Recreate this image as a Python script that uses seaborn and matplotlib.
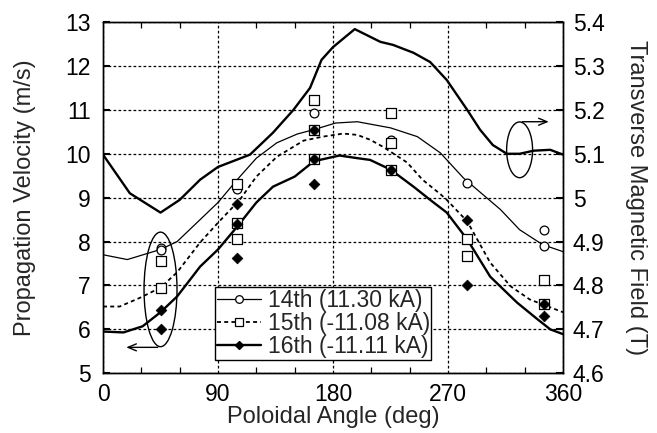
import numpy as np
import matplotlib
matplotlib.use("Agg")
import matplotlib.pyplot as plt
from matplotlib.patches import Ellipse
from matplotlib.lines import Line2D
import seaborn as sns

# Curves (poloidal angle in deg)
b_angle = [0, 21, 45, 60, 76, 90, 115, 133, 149, 162, 171, 180, 197, 217, 227, 243, 256, 269, 285, 295, 305, 316, 326, 337, 350, 360]
b_field = [5.098, 5.01, 4.966, 4.995, 5.041, 5.07, 5.098, 5.148, 5.2, 5.25, 5.314, 5.343, 5.384, 5.355, 5.348, 5.33, 5.309, 5.268, 5.2, 5.155, 5.12, 5.1, 5.1, 5.107, 5.109, 5.098]

c14_angle = [0, 19, 45, 58, 76, 90, 105, 120, 136, 152, 165, 182, 199, 225, 246, 264, 282, 311, 326, 344, 360]
c14_vel = [7.70, 7.59, 7.82, 8.0, 8.5, 8.89, 9.41, 9.9, 10.25, 10.45, 10.55, 10.7, 10.73, 10.59, 10.39, 10.02, 9.45, 8.73, 8.27, 7.93, 7.77]

c15_angle = [0, 13, 29, 45, 58, 76, 90, 107, 120, 136, 157, 172, 188, 199, 209, 219, 238, 250, 264, 269, 285, 303, 319, 334, 360]
c15_vel = [6.52, 6.52, 6.72, 6.95, 7.3, 7.98, 8.43, 8.95, 9.48, 9.93, 10.3, 10.39, 10.46, 10.43, 10.32, 10.16, 9.8, 9.41, 9.08, 8.95, 8.46, 7.52, 6.98, 6.68, 6.39]

c16_angle = [0, 16, 31, 45, 58, 76, 90, 105, 120, 133, 150, 165, 185, 199, 209, 225, 243, 256, 269, 285, 303, 324, 340, 350, 360]
c16_vel = [5.95, 5.93, 6.07, 6.39, 6.75, 7.43, 7.82, 8.34, 8.89, 9.25, 9.48, 9.83, 9.96, 9.9, 9.86, 9.64, 9.25, 8.95, 8.66, 8.05, 7.2, 6.61, 6.23, 6.0, 5.89]

# Measured points
p14_angle = [45, 45, 105, 165, 225, 285, 345, 345]
p14_vel = [7.86, 7.80, 9.20, 10.92, 10.32, 9.33, 8.26, 7.89]
p15_angle = [45, 45, 105, 105, 105, 165, 165, 165, 225, 225, 225, 285, 285, 345, 345]
p15_vel = [7.55, 6.95, 9.32, 8.42, 8.05, 11.23, 10.55, 9.88, 10.92, 10.24, 9.62, 8.05, 7.67, 7.12, 6.58]
p16_angle = [45, 45, 105, 105, 105, 165, 165, 165, 225, 285, 285, 345, 345]
p16_vel = [6.43, 6.00, 8.86, 8.39, 7.63, 10.55, 9.88, 9.31, 9.62, 8.48, 7.00, 6.58, 6.30]

labels = ["14th (11.30 kA)", "15th (-11.08 kA)", "16th (-11.11 kA)"]

sns.set_style("ticks")
plt.rcParams["font.family"] = ["Liberation Sans", "DejaVu Sans"]

fig, ax = plt.subplots(figsize=(6.57, 4.33), dpi=100)
fig.subplots_adjust(left=0.1568, right=0.857, top=0.949, bottom=0.138)
ax2 = ax.twinx()

dots = (0, (2.2, 1.8))

sns.lineplot(x=c14_angle, y=c14_vel, ax=ax, color="black", lw=0.9, sort=False)
sns.lineplot(x=c15_angle, y=c15_vel, ax=ax, color="black", lw=1.3, linestyle=dots, sort=False)
sns.lineplot(x=c16_angle, y=c16_vel, ax=ax, color="black", lw=1.7, sort=False)
sns.lineplot(x=b_angle, y=b_field, ax=ax2, color="black", lw=1.7, sort=False)

sns.scatterplot(x=p14_angle, y=p14_vel, ax=ax, marker="o", color="white", edgecolor="black", linewidth=0.9, s=40, zorder=5)
sns.scatterplot(x=p15_angle, y=p15_vel, ax=ax, marker="s", color="white", edgecolor="black", linewidth=0.9, s=42, zorder=5)
sns.scatterplot(x=p16_angle, y=p16_vel, ax=ax, marker="D", color="black", edgecolor="black", linewidth=0.5, s=30, zorder=6)

ax.set_xlim(0, 360)
ax.set_ylim(5, 13)
ax2.set_ylim(4.6, 5.4)
ax.set_xticks([0, 90, 180, 270, 360])
ax.set_xticks(np.arange(0, 361, 30), minor=True)
ax.set_yticks(np.arange(5, 14, 1))
ax2.set_yticks(np.arange(4.6, 5.45, 0.1))
ax2.set_yticklabels(["4.6", "4.7", "4.8", "4.9", "5", "5.1", "5.2", "5.3", "5.4"])

ax.grid(True, which="major", color="black", lw=0.9, linestyle=dots)
ax.tick_params(axis="both", which="both", direction="in", top=True, right=False, colors="black", labelsize=16.5)
ax.tick_params(axis="x", which="major", length=0, pad=7)
ax.tick_params(axis="x", which="minor", length=4, width=0.9)
ax.tick_params(axis="y", which="major", length=5, width=1.5, pad=9)
ax2.tick_params(axis="y", direction="in", length=5, width=1.5, pad=7, labelsize=16.5, colors="black")

for a in (ax, ax2):
    for sp in a.spines.values():
        sp.set_color("black")
        sp.set_linewidth(1.0)

ax.set_xlabel("Poloidal Angle (deg)", fontsize=17, labelpad=0)
ax.set_ylabel("Propagation Velocity (m/s)", fontsize=17, labelpad=21)
ax2.set_ylabel("Transverse Magnetic Field (T)", fontsize=17, rotation=-90, va="bottom", labelpad=15)

# annotations: ellipses and arrows pointing to the axes
ax.add_patch(Ellipse((45, 6.91), 25.8, 2.61, fill=False, edgecolor="black", lw=1.0, zorder=7))
ax.annotate("", xy=(16, 5.59), xytext=(45, 5.59),
            arrowprops=dict(arrowstyle="->,head_length=0.6,head_width=0.25", color="black", lw=1.0))
ax.add_patch(Ellipse((326, 10.09), 20.3, 1.27, fill=False, edgecolor="black", lw=1.0, zorder=7))
ax.annotate("", xy=(351, 10.73), xytext=(326, 10.73),
            arrowprops=dict(arrowstyle="->,head_length=0.6,head_width=0.25", color="black", lw=1.0))

handles = [
    Line2D([], [], color="black", lw=0.9, marker="o", ms=5.5, mfc="white", mec="black", mew=0.9),
    Line2D([], [], color="black", lw=1.3, linestyle=dots, marker="s", ms=5.5, mfc="white", mec="black", mew=0.9),
    Line2D([], [], color="black", lw=1.7, marker="D", ms=4.5, mfc="black", mec="black"),
]
leg = ax.legend(handles, labels, loc="lower left", bbox_to_anchor=(0.243, 0.037, 0.47, 0.23),
                mode="expand", fontsize=16.5, frameon=True, fancybox=False, framealpha=1,
                edgecolor="black", borderaxespad=0, handlelength=1.9, handletextpad=0.3,
                labelspacing=0.0, borderpad=0.1)
leg.get_frame().set_linewidth(1.0)
leg.set_zorder(10)

fig.savefig("out.png", dpi=100)
